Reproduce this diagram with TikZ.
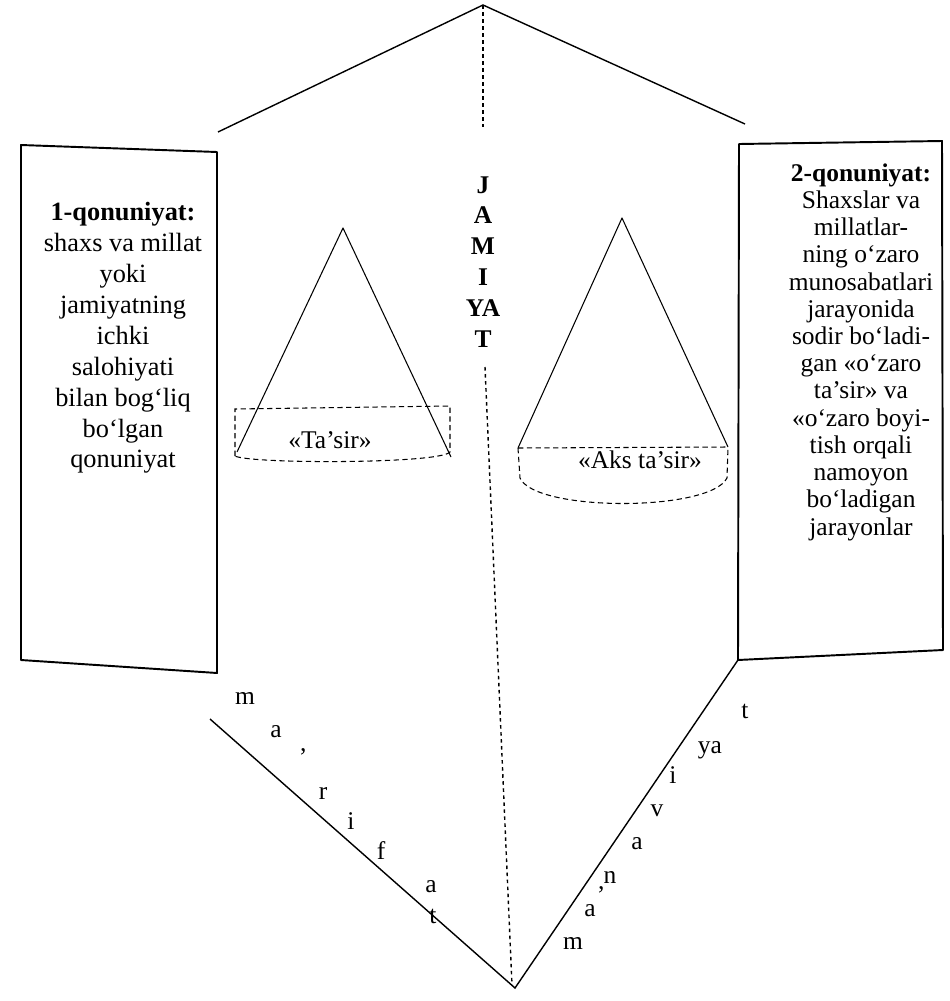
\documentclass[tikz,border=0pt]{standalone}
\usepackage{fontspec}
\setmainfont{Liberation Serif}

\begin{document}
\begin{tikzpicture}[x=0.02cm, y=-0.02cm,
  frame/.style={line width=1.1pt, line join=round},
  roof/.style={line width=0.8pt},
  cone/.style={line width=0.6pt, line join=round},
  rim/.style={line width=0.6pt, dash pattern=on 3pt off 2pt},
  axis/.style={line width=0.8pt, dash pattern=on 2pt off 2pt},
  letter/.style={font=\fontsize{14.5}{17}\selectfont, inner sep=0pt, anchor=base}]
  \useasboundingbox (0,0) rectangle (950,1001);
  % roof over the whole scheme
  \coordinate (S) at (483,5);
  \coordinate (RL) at (218,132);
  \coordinate (RR) at (745,124);
  \draw[roof] (RL) -- (S) -- (RR);
  \draw[axis] (S) -- (483,127);

  % two side boxes, slightly skewed as in the scan
  \coordinate (L1) at (21,145);
  \coordinate (L2) at (217,152);
  \coordinate (L3) at (217,673);
  \coordinate (L4) at (21,660);
  \draw[frame] (L1) -- (L2) -- (L3) -- (L4) -- cycle;
  \coordinate (R1) at (739,144);
  \coordinate (R2) at (942,141);
  \coordinate (R3) at (943,650);
  \coordinate (R4) at (738,660);
  \draw[frame] (R1) -- (R2) -- (R3) -- (R4) -- cycle;

  \node[font=\fontsize{15}{17.6}\selectfont, align=center, inner sep=0pt] (qL) at (123,338)
    {\textbf{1-qonuniyat:}\\shaxs va millat\\yoki\\jamiyatning\\ichki\\salohiyati\\bilan bog‘liq\\bo‘lgan\\qonuniyat};
  \node[font=\fontsize{14.5}{15.5}\selectfont, align=center, inner sep=0pt] (qR) at (861,352)
    {\textbf{2-qonuniyat:}\\Shaxslar va\\millatlar-\\ning o‘zaro\\munosabatlari\\jarayonida\\sodir bo‘ladi-\\gan «o‘zaro\\ta’sir» va\\«o‘zaro boyi-\\tish orqali\\namoyon\\bo‘ladigan\\jarayonlar};

  % society label and axis
  \node[font=\fontsize{14.5}{17.6}\selectfont\bfseries, align=center, inner sep=0pt] (J) at (483,262)
    {J\\A\\M\\I\\YA\\T};
  \coordinate (D1) at (485,367);
  \coordinate (D2) at (512,985);
  \draw[axis] (D1) -- (D2);

  % left cone
  \coordinate (A) at (343,228);
  \coordinate (B) at (237,452);
  \coordinate (C) at (451,457);
  \draw[cone] (B) -- (A) -- (C);
  \draw[rim] (235,456) -- (235,409) -- (450,406) -- (450,452)
    .. controls (440,464) and (250,464) .. (235,456);
  \node[font=\fontsize{14.5}{17}\selectfont] (ts) at (330,440) {«Ta’sir»};

  % right cone
  \coordinate (E) at (622,218);
  \coordinate (F) at (518,448);
  \coordinate (G) at (728,447);
  \draw[cone] (F) -- (E) -- (G);
  \draw[rim] (F) -- (G);
  \draw[rim] (F) -- (520,478) .. controls (535,512) and (710,512) .. (727,478) -- (G);
  \node[font=\fontsize{14.5}{17}\selectfont] (ak) at (640,460) {«Aks ta’sir»};

  % bottom wedge
  \coordinate (V) at (515,988);
  \coordinate (W) at (210,719);
  \draw[roof] (W) -- (V) -- (R4);

  \node[letter] (m1) at (245,704) {m};
  \node[letter] (a1) at (276,737) {a};
  \node[letter] (p1) at (303,765) {’};
  \node[letter] (r1) at (323,799) {r};
  \node[letter] (i1) at (351,829) {i};
  \node[letter] (f1) at (381,859) {f};
  \node[letter] (a2) at (431,892) {a};
  \node[letter] (t1) at (433,923) {t};

  \node[letter] (m2) at (573,949) {m};
  \node[letter] (a3) at (590,916) {a};
  \node[letter] (p2) at (601,903) {’};
  \node[letter] (n2) at (610,883) {n};
  \node[letter] (a4) at (637,849) {a};
  \node[letter] (v2) at (657,816) {v};
  \node[letter] (i2) at (673,783) {i};
  \node[letter] (y2) at (710,753) {ya};
  \node[letter] (t2) at (745,718) {t};
\end{tikzpicture}
\end{document}
